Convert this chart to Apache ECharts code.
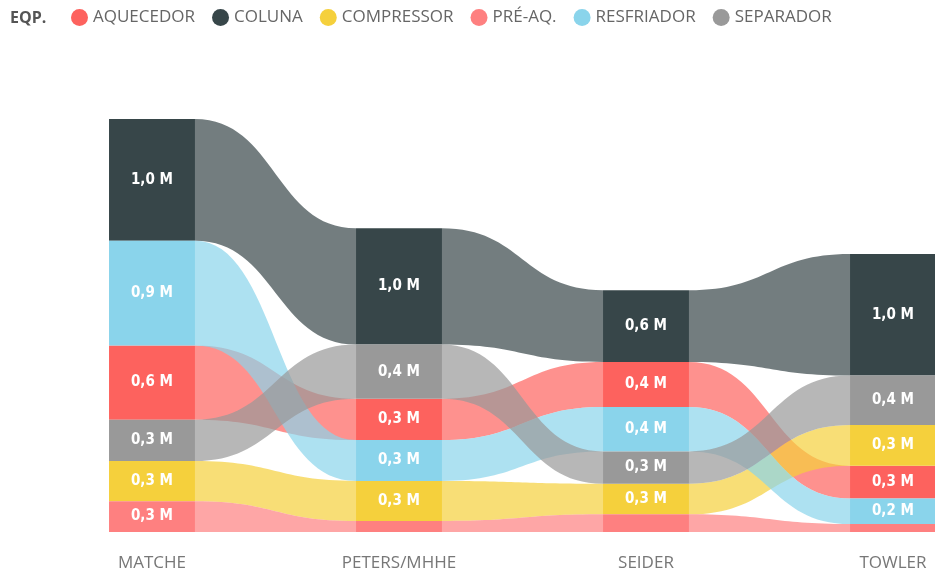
<!DOCTYPE html>
<html>
<head>
<meta charset="utf-8">
<script src="https://cdn.jsdelivr.net/npm/echarts@6/dist/echarts.min.js"></script>
<style>
    html, body {margin: 0; padding: 0; background: #fff;}
    #chart {width: 935px; height: 574px;}
</style>
</head>
<body>
<div id="chart"></div>
<script>
// categorias e valores (em milhões)
const categories = ['MATCHE', 'PETERS/MHHE', 'SEIDER', 'TOWLER'];
const seriesNames = ['AQUECEDOR', 'COLUNA', 'COMPRESSOR', 'PRÉ-AQ.', 'RESFRIADOR', 'SEPARADOR'];
const aquecedor = [0.61, 0.34, 0.37, 0.27];
const coluna = [1.00, 0.955, 0.59, 1.00];
const compressor = [0.33, 0.33, 0.252, 0.335];
const preAq = [0.253, 0.09, 0.145, 0.065];
const resfriador = [0.86, 0.335, 0.365, 0.21];
const separador = [0.34, 0.445, 0.265, 0.405];

const seriesValues = [aquecedor, coluna, compressor, preAq, resfriador, separador];
const seriesColors = ['#FD625E', '#374649', '#F5D03C', '#FE8080', '#8AD4EB', '#999999'];

const barRatio = 0.348;
const labelFont = '"DejaVu Sans Condensed", sans-serif';

/**
 * soma dos valores abaixo da série s na categoria i
 * (maiores ficam em cima)
 * **/
function stackBase(s, i) {
    const v = seriesValues[s][i];

    let base = 0;

    seriesValues.forEach((vals, k) => {
        if (vals[i] < v || (vals[i] === v && k > s))
            base += vals[i];
    });
    return base;
}

function fmt(v) {
    return v.toFixed(1).replace('.', ',') + ' M';
}

function makeRender(s) {
    return (params, api) => {
        const i = api.value(0);
        const v = api.value(1);
        const color = seriesColors[s];
        const bw = api.size([1, 0])[0] * barRatio;
        const base = stackBase(s, i);
        const top = api.coord([i, base + v]);
        const bottom = api.coord([i, base]);
        const children = [];

        if (i < categories.length - 1) {
            const v2 = seriesValues[s][i + 1];
            const base2 = stackBase(s, i + 1);
            const top2 = api.coord([i + 1, base2 + v2]);
            const bottom2 = api.coord([i + 1, base2]);
            const x1 = top[0] + bw / 2;
            const x2 = top2[0] - bw / 2;
            const xm = (x1 + x2) / 2;

            children.push({
                type: 'path',
                shape: {
                    pathData: `M${x1},${top[1]} C${xm},${top[1]} ${xm},${top2[1]} ${x2},${top2[1]} ` +
                        `L${x2},${bottom2[1]} C${xm},${bottom2[1]} ${xm},${bottom[1]} ${x1},${bottom[1]} Z`
                },
                style: {fill: color, opacity: 0.7}
            });
        }
        children.push({
            type: 'rect',
            shape: {x: top[0] - bw / 2, y: top[1], width: bw, height: bottom[1] - top[1]},
            style: {fill: color}
        });
        if (bottom[1] - top[1] >= 20)
            children.push({
                type: 'text',
                x: top[0],
                y: (top[1] + bottom[1]) / 2,
                style: {
                    text: fmt(v),
                    fill: '#fff',
                    align: 'center',
                    verticalAlign: 'middle',
                    fontSize: 15,
                    fontWeight: 'bold',
                    fontFamily: labelFont
                }
            });
        return {type: 'group', children: children};
    };
}

const chart = echarts.init(document.getElementById('chart'));

chart.setOption({
    animation: false,
    title: {
        text: 'EQP.',
        left: 5,
        top: 5,
        textStyle: {fontSize: 16, fontWeight: 'bold', color: '#555', fontFamily: 'Open Sans'}
    },
    legend: {
        data: seriesNames,
        left: 66,
        top: 4,
        icon: 'circle',
        itemWidth: 17,
        itemHeight: 17,
        itemGap: 17,
        textStyle: {fontSize: 17, color: '#666', fontFamily: 'Open Sans'}
    },
    // grid vai de centro a centro; a última barra fica cortada na borda
    grid: {left: 152, right: 42, top: 106, bottom: 42},
    xAxis: {
        type: 'category',
        data: categories,
        boundaryGap: false,
        axisLine: {show: false},
        axisTick: {show: false},
        splitLine: {show: false},
        axisLabel: {fontSize: 17, color: '#777', fontFamily: 'Open Sans', margin: 23}
    },
    yAxis: {
        type: 'value',
        min: 0,
        max: 3.5,
        show: false,
        splitLine: {show: false}
    },
    series: seriesNames.map((name, s) => ({
        type: 'custom',
        name: name,
        itemStyle: {color: seriesColors[s]},
        encode: {x: 0, y: 1},
        renderItem: makeRender(s),
        data: seriesValues[s].map((v, i) => [i, v])
    }))
});
</script>
</body>
</html>
